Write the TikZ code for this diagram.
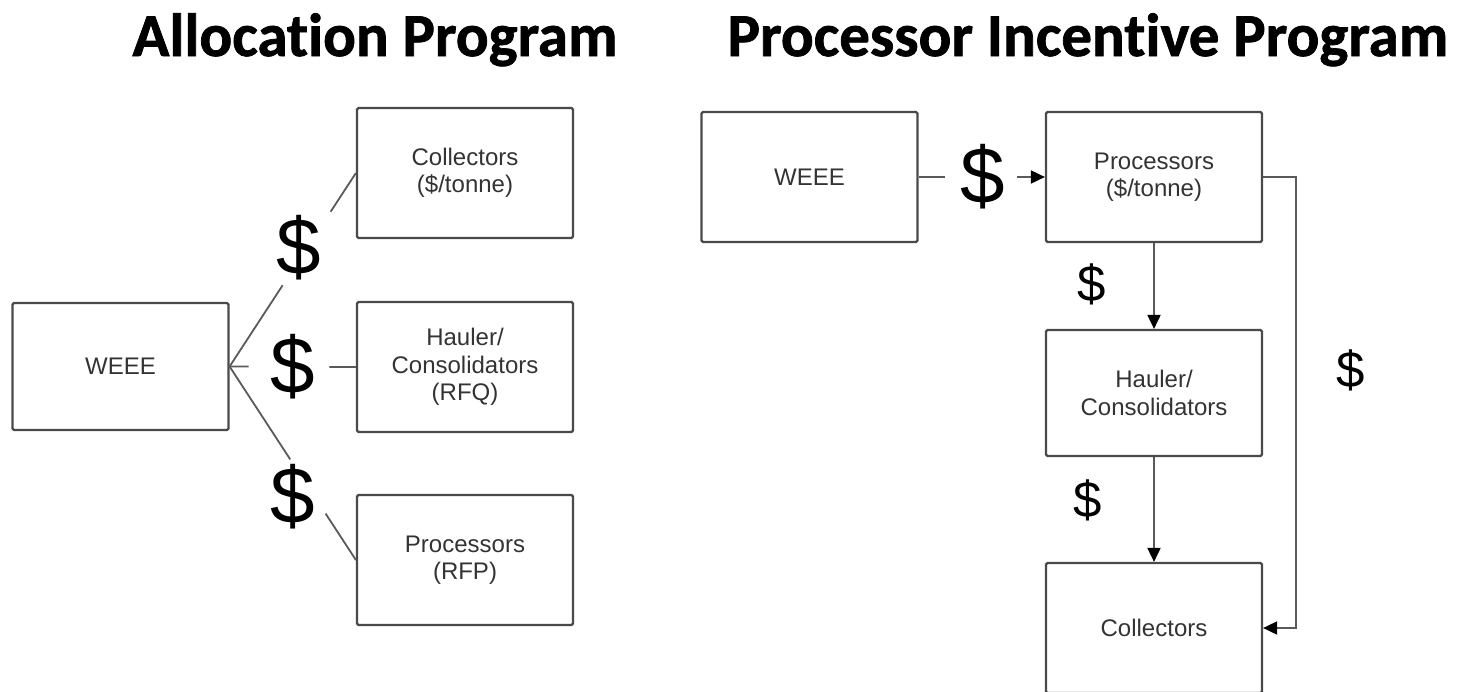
\documentclass[tikz,border=0pt]{standalone}
\usepackage{fontspec}
\setmainfont{Liberation Sans}
\newfontfamily\headfont{Carlito}[Ligatures=NoCommon, FakeBold=1.2]
\usetikzlibrary{arrows.meta,calc}
\definecolor{boxgray}{HTML}{4A4A4A}
\definecolor{linkgray}{HTML}{5A5A5A}
\definecolor{textgray}{HTML}{333333}
\begin{document}
\begin{tikzpicture}[x=1pt,y=-1pt,
  box/.style={draw=boxgray, line width=2.2pt, rounded corners=1.5pt,
    minimum width=216pt, minimum height=130pt, inner sep=0pt,
    align=center, text=textgray, font=\fontsize{24}{27.5}\selectfont},
  link/.style={draw=linkgray, line width=1.8pt},
  arrowlink/.style={link, -{Triangle[length=14pt,width=13pt,color=black]}},
  bigdollar/.style={inner sep=0pt, font=\fontsize{80}{80}\selectfont},
  smalldollar/.style={inner sep=0pt, font=\fontsize{51}{51}\selectfont},
  heading/.style={anchor=base, font=\headfont\bfseries\fontsize{61}{61}\selectfont}
]
\useasboundingbox (0,0) rectangle (1458,691);
\clip (0,0) rectangle (1458,691);

% headings
\node[heading] (h1) at (375,56) {Allocation Program};
\node[heading] (h2) at (1088,56) {Processor Incentive Program};

% allocation program: WEEE fans out to three recipients
\node[box, minimum height=127pt] (lw) at (120.5,366.5) {WEEE};
\node[box] (lc) at (465,173) {Collectors\\(\$/tonne)};
\node[box] (lh) at (465,367) {Hauler/\\Consolidators\\(RFQ)};
\node[box] (lp) at (465,560) {Processors\\(RFP)};

\draw[link] (lw.east) -- ($(lw.east)!0.42!(lc.west)$);
\draw[link] ($(lw.east)!0.80!(lc.west)$) -- (lc.west);
\draw[link] (lw.east) -- ($(lw.east)!0.15!(lh.west)$);
\draw[link] ($(lw.east)!0.79!(lh.west)$) -- (lh.west);
\draw[link] (lw.east) -- ($(lw.east)!0.48!(lp.west)$);
\draw[link] ($(lw.east)!0.76!(lp.west)$) -- (lp.west);

\node[bigdollar] (d1) at (299,248) {\$};
\node[bigdollar] (d2) at (293,367) {\$};
\node[bigdollar] (d3) at (293,497) {\$};

% processor incentive program: money flows down the chain
\node[box] (rw) at (809.5,177) {WEEE};
\node[box] (rp) at (1154,177) {Processors\\(\$/tonne)};
\node[box, minimum height=126pt] (rh) at (1154,393) {Hauler/\\Consolidators};
\node[box] (rc) at (1154,628) {Collectors};

\draw[link] (rw.east) -- ($(rw.east)!0.21!(rp.west)$);
\draw[arrowlink] ($(rw.east)!0.78!(rp.west)$) -- (rp.west);
\draw[arrowlink] (rp.south) -- (rh.north);
\draw[arrowlink] (rh.south) -- (rc.north);
\draw[arrowlink] (rp.east) -- ++(33,0) |- (rc.east);

\node[bigdollar] (d4) at (983,177) {\$};
\node[smalldollar] (d5) at (1092,284) {\$};
\node[smalldollar] (d6) at (1088,500) {\$};
\node[smalldollar] (d7) at (1351,370) {\$};
\end{tikzpicture}
\end{document}
